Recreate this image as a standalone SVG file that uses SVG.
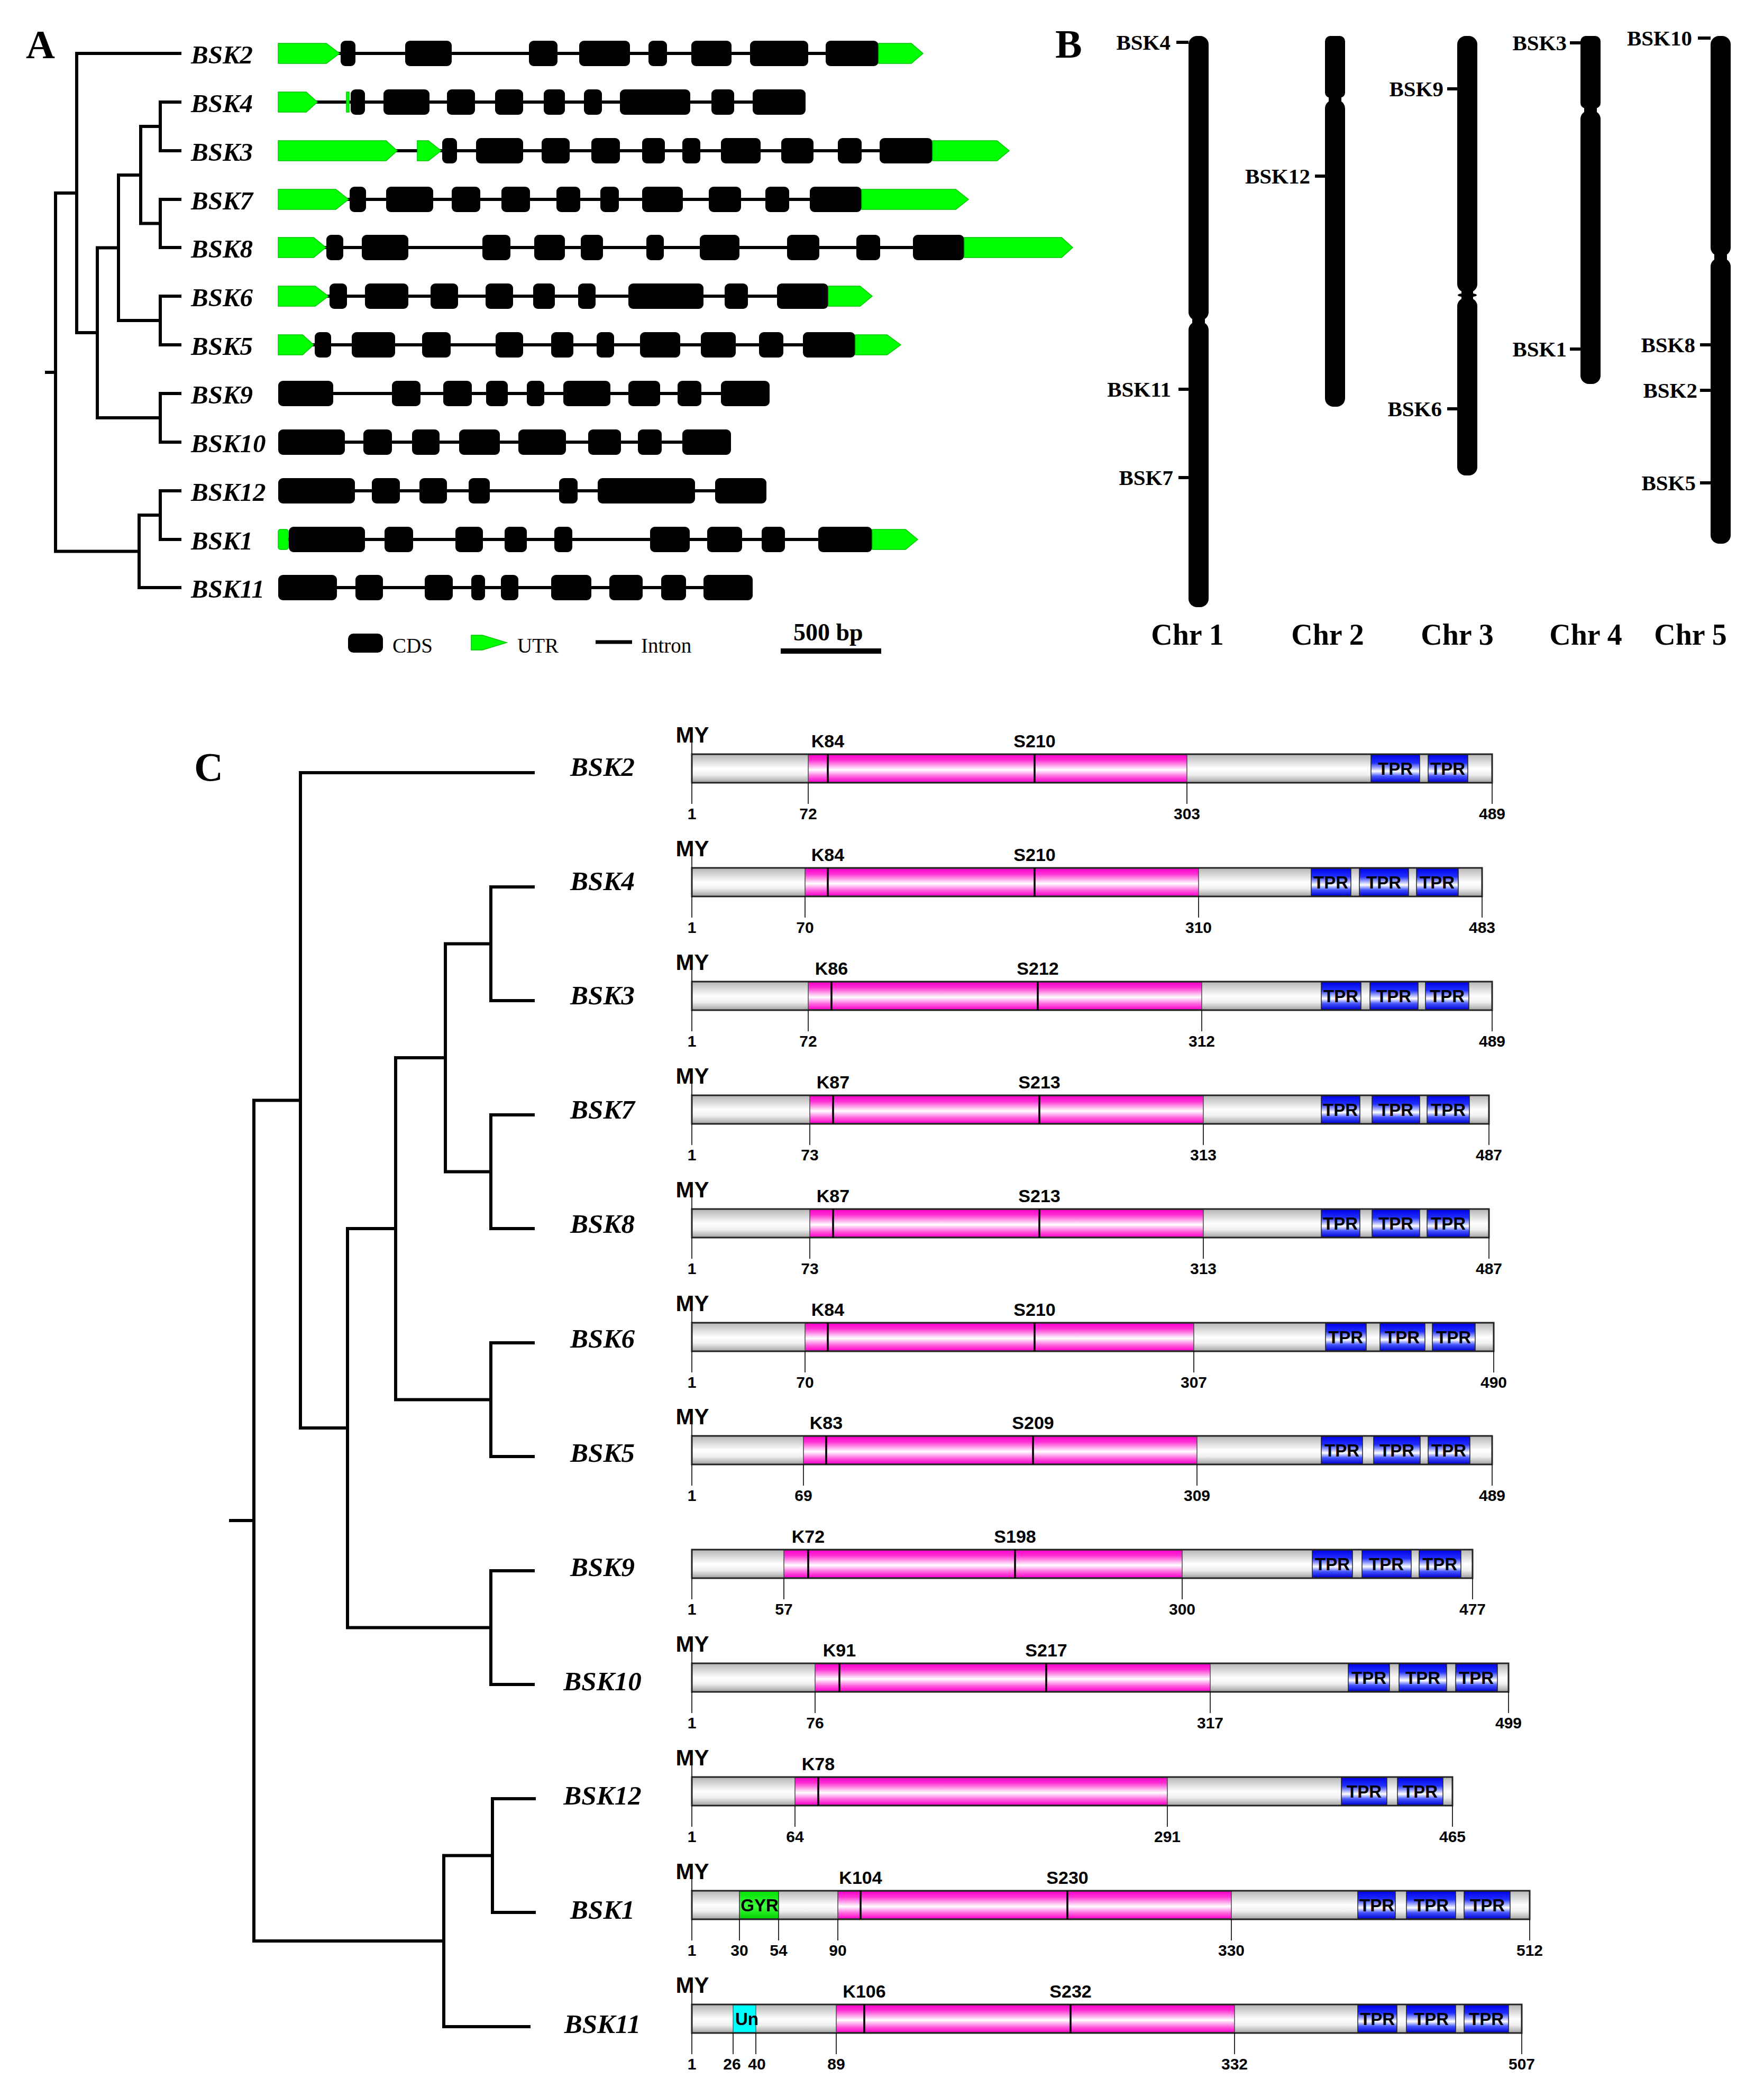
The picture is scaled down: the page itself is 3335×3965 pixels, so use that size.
<svg xmlns="http://www.w3.org/2000/svg" width="3335" height="3965" viewBox="0 0 3335 3965">
<style>
.panel{font-family:"Liberation Serif","Times New Roman",serif;font-weight:bold;font-size:76px;fill:#000}
.tr{fill:none;stroke:#000;stroke-width:6;stroke-linecap:square;stroke-linejoin:miter}
.gl{font-family:"Liberation Serif","Times New Roman",serif;font-weight:bold;font-style:italic;font-size:49px;fill:#000}
.intr{stroke:#000;stroke-width:6}
.cds{fill:#000}
.utr{fill:#00ff00;stroke:#00c800;stroke-width:1.5}
.leg{font-family:"Liberation Serif","Times New Roman",serif;font-size:39px;fill:#000}
.sb{font-family:"Liberation Serif","Times New Roman",serif;font-weight:bold;font-size:46px;fill:#000}
.chr{fill:#000}
.tick{stroke:#000;stroke-width:6}
.cl{font-family:"Liberation Serif","Times New Roman",serif;font-weight:bold;font-size:41px;fill:#000;text-anchor:end}
.chrn{font-family:"Liberation Serif","Times New Roman",serif;font-weight:bold;font-size:56px;fill:#000;text-anchor:middle}
.pl{font-family:"Liberation Serif","Times New Roman",serif;font-weight:bold;font-style:italic;font-size:51px;text-anchor:middle;fill:#000}
.bar{fill:url(#gGray)}
.barO{fill:none;stroke:#222;stroke-width:3}
.kin{fill:url(#gMag);stroke:#444;stroke-width:1.5}
.tpr{fill:url(#gBlue);stroke:#222;stroke-width:1.5}
.gyr{fill:url(#gGrn);stroke:#333;stroke-width:1.5}
.un{fill:#00ffff;stroke:#333;stroke-width:1}
.mk{stroke:#000;stroke-width:3.5}
.tk{stroke:#000;stroke-width:1.6}
.sa{font-family:"Liberation Sans",Arial,sans-serif;font-weight:bold;text-anchor:middle;fill:#000}
.my{font-size:42px}
.ks{font-size:34px}
.num{font-size:30px}
.tx{font-size:33px}
</style>
<defs>
<linearGradient id="gGray" x1="0" y1="0" x2="0" y2="1">
<stop offset="0" stop-color="#b4b4b4"/><stop offset="0.5" stop-color="#ffffff"/><stop offset="0.72" stop-color="#f0f0f0"/><stop offset="1" stop-color="#a0a0a0"/>
</linearGradient>
<linearGradient id="gMag" x1="0" y1="0" x2="0" y2="1">
<stop offset="0" stop-color="#ff00cc"/><stop offset="0.2" stop-color="#ff30d4"/><stop offset="0.55" stop-color="#ffffff"/><stop offset="0.8" stop-color="#ff60dc"/><stop offset="1" stop-color="#ff00cc"/>
</linearGradient>
<linearGradient id="gBlue" x1="0" y1="0" x2="0" y2="1">
<stop offset="0" stop-color="#0000e6"/><stop offset="0.3" stop-color="#2030ff"/><stop offset="0.6" stop-color="#ffffff"/><stop offset="0.78" stop-color="#4455ff"/><stop offset="1" stop-color="#0000d0"/>
</linearGradient>
<linearGradient id="gGrn" x1="0" y1="0" x2="0" y2="1">
<stop offset="0" stop-color="#00e000"/><stop offset="0.55" stop-color="#40ff40"/><stop offset="1" stop-color="#00d000"/>
</linearGradient>
</defs>
<rect x="0" y="0" width="3335" height="3965" fill="#fff"/>

<!-- Panel letters -->
<text class="panel" x="49" y="110">A</text>
<text class="panel" x="1995" y="109">B</text>
<text class="panel" x="367" y="1476">C</text>

<!-- Panel A tree -->
<g id="treeA">
<path class="tr" d="M88,704 H105 M105,365 V1042.5 M105,365 H145 M105,1042.5 H263"/>
<path class="tr" d="M340,101 H145 V629 H184"/>
<path class="tr" d="M224,468.5 H184 V790 H303"/>
<path class="tr" d="M266,331 H224 V606 H303"/>
<path class="tr" d="M303,239 H266 V422.5 H303"/>
<path class="tr" d="M340,193 H303 V285 H340"/>
<path class="tr" d="M340,377 H303 V468 H340"/>
<path class="tr" d="M340,560 H303 V652 H340"/>
<path class="tr" d="M340,744 H303 V836 H340"/>
<path class="tr" d="M303,974 H263 V1111 H340"/>
<path class="tr" d="M340,928 H303 V1020 H340"/>
</g>

<!-- Panel A gene structures -->
<g id="geneA-BSK2">
<text class="gl" x="361" y="120">BSK2</text>
<line class="intr" x1="526" y1="101" x2="1740" y2="101"/>
<polygon class="utr" points="526,82 617,82 642,101 617,120 526,120"/>
<rect class="cds" x="644" y="77" width="28" height="48" rx="9"/>
<rect class="cds" x="766" y="77" width="88" height="48" rx="9"/>
<rect class="cds" x="1000" y="77" width="54" height="48" rx="9"/>
<rect class="cds" x="1095" y="77" width="96" height="48" rx="9"/>
<rect class="cds" x="1226" y="77" width="35" height="48" rx="9"/>
<rect class="cds" x="1307" y="77" width="76" height="48" rx="9"/>
<rect class="cds" x="1418" y="77" width="110" height="48" rx="9"/>
<rect class="cds" x="1561" y="77" width="100" height="48" rx="9"/>
<polygon class="utr" points="1661,82 1723,82 1745,101 1723,120 1661,120"/>
</g>
<g id="geneA-BSK4">
<text class="gl" x="361" y="212">BSK4</text>
<line class="intr" x1="526" y1="193" x2="1523" y2="193"/>
<polygon class="utr" points="526,174 579,174 600,193 579,212 526,212"/>
<rect class="utr" x="655" y="174" width="5" height="38"/>
<rect class="cds" x="663" y="169" width="27" height="48" rx="9"/>
<rect class="cds" x="725" y="169" width="87" height="48" rx="9"/>
<rect class="cds" x="845" y="169" width="53" height="48" rx="9"/>
<rect class="cds" x="936" y="169" width="53" height="48" rx="9"/>
<rect class="cds" x="1028" y="169" width="40" height="48" rx="9"/>
<rect class="cds" x="1104" y="169" width="34" height="48" rx="9"/>
<rect class="cds" x="1172" y="169" width="133" height="48" rx="9"/>
<rect class="cds" x="1345" y="169" width="43" height="48" rx="9"/>
<rect class="cds" x="1423" y="169" width="100" height="48" rx="9"/>
</g>
<g id="geneA-BSK3">
<text class="gl" x="361" y="304">BSK3</text>
<line class="intr" x1="526" y1="285" x2="1900" y2="285"/>
<polygon class="utr" points="526,266 730,266 751,285 730,304 526,304"/>
<polygon class="utr" points="789,266 810,266 834,285 810,304 789,304"/>
<rect class="cds" x="836" y="261" width="28" height="48" rx="9"/>
<rect class="cds" x="900" y="261" width="89" height="48" rx="9"/>
<rect class="cds" x="1024" y="261" width="53" height="48" rx="9"/>
<rect class="cds" x="1118" y="261" width="54" height="48" rx="9"/>
<rect class="cds" x="1214" y="261" width="43" height="48" rx="9"/>
<rect class="cds" x="1290" y="261" width="34" height="48" rx="9"/>
<rect class="cds" x="1363" y="261" width="75" height="48" rx="9"/>
<rect class="cds" x="1477" y="261" width="61" height="48" rx="9"/>
<rect class="cds" x="1584" y="261" width="45" height="48" rx="9"/>
<rect class="cds" x="1663" y="261" width="100" height="48" rx="9"/>
<polygon class="utr" points="1763,266 1885,266 1908,285 1885,304 1763,304"/>
</g>
<g id="geneA-BSK7">
<text class="gl" x="361" y="396">BSK7</text>
<line class="intr" x1="526" y1="377" x2="1820" y2="377"/>
<polygon class="utr" points="526,358 635,358 659,377 635,396 526,396"/>
<rect class="cds" x="661" y="353" width="31" height="48" rx="9"/>
<rect class="cds" x="730" y="353" width="89" height="48" rx="9"/>
<rect class="cds" x="854" y="353" width="54" height="48" rx="9"/>
<rect class="cds" x="948" y="353" width="54" height="48" rx="9"/>
<rect class="cds" x="1052" y="353" width="45" height="48" rx="9"/>
<rect class="cds" x="1135" y="353" width="35" height="48" rx="9"/>
<rect class="cds" x="1214" y="353" width="77" height="48" rx="9"/>
<rect class="cds" x="1340" y="353" width="61" height="48" rx="9"/>
<rect class="cds" x="1447" y="353" width="45" height="48" rx="9"/>
<rect class="cds" x="1531" y="353" width="98" height="48" rx="9"/>
<polygon class="utr" points="1629,358 1807,358 1831,377 1807,396 1629,396"/>
</g>
<g id="geneA-BSK8">
<text class="gl" x="361" y="487">BSK8</text>
<line class="intr" x1="526" y1="468" x2="2020" y2="468"/>
<polygon class="utr" points="526,449 593,449 616,468 593,487 526,487"/>
<rect class="cds" x="617" y="444" width="32" height="48" rx="9"/>
<rect class="cds" x="684" y="444" width="88" height="48" rx="9"/>
<rect class="cds" x="912" y="444" width="53" height="48" rx="9"/>
<rect class="cds" x="1010" y="444" width="58" height="48" rx="9"/>
<rect class="cds" x="1098" y="444" width="42" height="48" rx="9"/>
<rect class="cds" x="1222" y="444" width="33" height="48" rx="9"/>
<rect class="cds" x="1323" y="444" width="75" height="48" rx="9"/>
<rect class="cds" x="1488" y="444" width="61" height="48" rx="9"/>
<rect class="cds" x="1619" y="444" width="45" height="48" rx="9"/>
<rect class="cds" x="1726" y="444" width="97" height="48" rx="9"/>
<polygon class="utr" points="1823,449 2007,449 2028,468 2007,487 1823,487"/>
</g>
<g id="geneA-BSK6">
<text class="gl" x="361" y="579">BSK6</text>
<line class="intr" x1="526" y1="560" x2="1640" y2="560"/>
<polygon class="utr" points="526,541 596,541 621,560 596,579 526,579"/>
<rect class="cds" x="623" y="536" width="33" height="48" rx="9"/>
<rect class="cds" x="690" y="536" width="82" height="48" rx="9"/>
<rect class="cds" x="814" y="536" width="52" height="48" rx="9"/>
<rect class="cds" x="918" y="536" width="52" height="48" rx="9"/>
<rect class="cds" x="1008" y="536" width="41" height="48" rx="9"/>
<rect class="cds" x="1093" y="536" width="33" height="48" rx="9"/>
<rect class="cds" x="1188" y="536" width="142" height="48" rx="9"/>
<rect class="cds" x="1370" y="536" width="44" height="48" rx="9"/>
<rect class="cds" x="1469" y="536" width="97" height="48" rx="9"/>
<polygon class="utr" points="1566,541 1626,541 1649,560 1626,579 1566,579"/>
</g>
<g id="geneA-BSK5">
<text class="gl" x="361" y="671">BSK5</text>
<line class="intr" x1="526" y1="652" x2="1695" y2="652"/>
<polygon class="utr" points="526,633 572,633 593,652 572,671 526,671"/>
<rect class="cds" x="595" y="628" width="31" height="48" rx="9"/>
<rect class="cds" x="665" y="628" width="82" height="48" rx="9"/>
<rect class="cds" x="798" y="628" width="54" height="48" rx="9"/>
<rect class="cds" x="937" y="628" width="52" height="48" rx="9"/>
<rect class="cds" x="1042" y="628" width="42" height="48" rx="9"/>
<rect class="cds" x="1128" y="628" width="33" height="48" rx="9"/>
<rect class="cds" x="1210" y="628" width="76" height="48" rx="9"/>
<rect class="cds" x="1325" y="628" width="66" height="48" rx="9"/>
<rect class="cds" x="1435" y="628" width="46" height="48" rx="9"/>
<rect class="cds" x="1518" y="628" width="99" height="48" rx="9"/>
<polygon class="utr" points="1617,633 1677,633 1703,652 1677,671 1617,671"/>
</g>
<g id="geneA-BSK9">
<text class="gl" x="361" y="763">BSK9</text>
<line class="intr" x1="526" y1="744" x2="1455" y2="744"/>
<rect class="cds" x="526" y="720" width="104" height="48" rx="9"/>
<rect class="cds" x="741" y="720" width="54" height="48" rx="9"/>
<rect class="cds" x="838" y="720" width="54" height="48" rx="9"/>
<rect class="cds" x="919" y="720" width="41" height="48" rx="9"/>
<rect class="cds" x="996" y="720" width="33" height="48" rx="9"/>
<rect class="cds" x="1065" y="720" width="89" height="48" rx="9"/>
<rect class="cds" x="1188" y="720" width="60" height="48" rx="9"/>
<rect class="cds" x="1281" y="720" width="45" height="48" rx="9"/>
<rect class="cds" x="1363" y="720" width="92" height="48" rx="9"/>
</g>
<g id="geneA-BSK10">
<text class="gl" x="361" y="855">BSK10</text>
<line class="intr" x1="526" y1="836" x2="1382" y2="836"/>
<rect class="cds" x="526" y="812" width="126" height="48" rx="9"/>
<rect class="cds" x="687" y="812" width="54" height="48" rx="9"/>
<rect class="cds" x="779" y="812" width="52" height="48" rx="9"/>
<rect class="cds" x="868" y="812" width="77" height="48" rx="9"/>
<rect class="cds" x="980" y="812" width="90" height="48" rx="9"/>
<rect class="cds" x="1112" y="812" width="62" height="48" rx="9"/>
<rect class="cds" x="1206" y="812" width="45" height="48" rx="9"/>
<rect class="cds" x="1290" y="812" width="92" height="48" rx="9"/>
</g>
<g id="geneA-BSK12">
<text class="gl" x="361" y="947">BSK12</text>
<line class="intr" x1="526" y1="928" x2="1449" y2="928"/>
<rect class="cds" x="526" y="904" width="145" height="48" rx="9"/>
<rect class="cds" x="703" y="904" width="53" height="48" rx="9"/>
<rect class="cds" x="793" y="904" width="52" height="48" rx="9"/>
<rect class="cds" x="886" y="904" width="40" height="48" rx="9"/>
<rect class="cds" x="1057" y="904" width="35" height="48" rx="9"/>
<rect class="cds" x="1130" y="904" width="184" height="48" rx="9"/>
<rect class="cds" x="1352" y="904" width="97" height="48" rx="9"/>
</g>
<g id="geneA-BSK1">
<text class="gl" x="361" y="1039">BSK1</text>
<line class="intr" x1="526" y1="1020" x2="1728" y2="1020"/>
<rect class="utr" x="526" y="1001" width="19" height="38" rx="4"/>
<rect class="cds" x="546" y="996" width="144" height="48" rx="9"/>
<rect class="cds" x="727" y="996" width="54" height="48" rx="9"/>
<rect class="cds" x="861" y="996" width="52" height="48" rx="9"/>
<rect class="cds" x="954" y="996" width="42" height="48" rx="9"/>
<rect class="cds" x="1048" y="996" width="34" height="48" rx="9"/>
<rect class="cds" x="1229" y="996" width="75" height="48" rx="9"/>
<rect class="cds" x="1337" y="996" width="66" height="48" rx="9"/>
<rect class="cds" x="1440" y="996" width="44" height="48" rx="9"/>
<rect class="cds" x="1547" y="996" width="102" height="48" rx="9"/>
<polygon class="utr" points="1649,1001 1712,1001 1735,1020 1712,1039 1649,1039"/>
</g>
<g id="geneA-BSK11">
<text class="gl" x="361" y="1130">BSK11</text>
<line class="intr" x1="526" y1="1111" x2="1423" y2="1111"/>
<rect class="cds" x="526" y="1087" width="111" height="48" rx="9"/>
<rect class="cds" x="672" y="1087" width="52" height="48" rx="9"/>
<rect class="cds" x="803" y="1087" width="53" height="48" rx="9"/>
<rect class="cds" x="891" y="1087" width="26" height="48" rx="9"/>
<rect class="cds" x="947" y="1087" width="33" height="48" rx="9"/>
<rect class="cds" x="1042" y="1087" width="76" height="48" rx="9"/>
<rect class="cds" x="1152" y="1087" width="63" height="48" rx="9"/>
<rect class="cds" x="1250" y="1087" width="47" height="48" rx="9"/>
<rect class="cds" x="1330" y="1087" width="93" height="48" rx="9"/>
</g>

<!-- Panel A legend -->
<g id="legendA">
<rect class="cds" x="658" y="1198" width="66" height="36" rx="10"/>
<text class="leg" x="742" y="1234">CDS</text>
<polygon class="utr" points="891,1201 912,1201 958,1215 912,1229 891,1229"/>
<text class="leg" x="978" y="1234">UTR</text>
<line x1="1126" y1="1214" x2="1195" y2="1214" stroke="#000" stroke-width="7"/>
<text class="leg" x="1212" y="1234">Intron</text>
<text class="sb" x="1500" y="1211">500 bp</text>
<rect x="1476" y="1226" width="190" height="10" fill="#000"/>
</g>

<!-- Panel B chromosomes -->
<g id="chr1">
<rect class="chr" x="2247" y="68" width="38" height="538" rx="16"/>
<rect class="chr" x="2247" y="608" width="38" height="540" rx="16"/>
<rect class="chr" x="2254" y="596" width="24" height="22"/>
<line class="tick" x1="2224" y1="80" x2="2247" y2="80"/>
<text class="cl" x="2213" y="94">BSK4</text>
<line class="tick" x1="2228" y1="736" x2="2247" y2="736"/>
<text class="cl" x="2214" y="750">BSK11</text>
<line class="tick" x1="2228" y1="903" x2="2247" y2="903"/>
<text class="cl" x="2218" y="917">BSK7</text>
<text class="chrn" x="2245" y="1219">Chr 1</text>
</g>
<g id="chr2">
<rect class="chr" x="2505" y="68" width="38" height="117" rx="10"/>
<rect class="chr" x="2505" y="189" width="38" height="580" rx="16"/>
<rect class="chr" x="2512" y="180" width="24" height="14"/>
<line class="tick" x1="2486" y1="333" x2="2505" y2="333"/>
<text class="cl" x="2477" y="347">BSK12</text>
<text class="chrn" x="2510" y="1219">Chr 2</text>
</g>
<g id="chr3">
<rect class="chr" x="2755" y="68" width="38" height="485" rx="16"/>
<rect class="chr" x="2755" y="563" width="38" height="336" rx="16"/>
<rect class="chr" x="2763" y="546" width="22" height="24"/>
<ellipse class="chr" cx="2774" cy="558" rx="18" ry="4"/>
<line class="tick" x1="2736" y1="168" x2="2755" y2="168"/>
<text class="cl" x="2729" y="182">BSK9</text>
<line class="tick" x1="2736" y1="773" x2="2755" y2="773"/>
<text class="cl" x="2726" y="787">BSK6</text>
<text class="chrn" x="2755" y="1219">Chr 3</text>
</g>
<g id="chr4">
<rect class="chr" x="2988" y="68" width="38" height="137" rx="10"/>
<rect class="chr" x="2988" y="209" width="38" height="517" rx="16"/>
<rect class="chr" x="2995" y="200" width="24" height="14"/>
<line class="tick" x1="2968" y1="81" x2="2988" y2="81"/>
<text class="cl" x="2962" y="95">BSK3</text>
<line class="tick" x1="2968" y1="660" x2="2988" y2="660"/>
<text class="cl" x="2962" y="674">BSK1</text>
<text class="chrn" x="2998" y="1219">Chr 4</text>
</g>
<g id="chr5">
<rect class="chr" x="3234" y="68" width="38" height="416" rx="16"/>
<rect class="chr" x="3234" y="488" width="38" height="540" rx="16"/>
<rect class="chr" x="3241" y="478" width="24" height="18"/>
<line class="tick" x1="3210" y1="72" x2="3234" y2="72"/>
<text class="cl" x="3199" y="86">BSK10</text>
<line class="tick" x1="3214" y1="652" x2="3234" y2="652"/>
<text class="cl" x="3205" y="666">BSK8</text>
<line class="tick" x1="3214" y1="738" x2="3234" y2="738"/>
<text class="cl" x="3209" y="752">BSK2</text>
<line class="tick" x1="3214" y1="913" x2="3234" y2="913"/>
<text class="cl" x="3206" y="927">BSK5</text>
<text class="chrn" x="3196" y="1219">Chr 5</text>
</g>

<!-- Panel C tree -->
<g id="treeC">
<path class="tr" d="M436,2875 H480 M480,2080.5 V3670 M480,2080.5 H568 M480,3670 H839"/>
<path class="tr" d="M1008,1461 H568 V2700 H657"/>
<path class="tr" d="M748,2323 H657 V3077.5 H928"/>
<path class="tr" d="M842,2000 H748 V2646.5 H928"/>
<path class="tr" d="M928,1784.5 H842 V2215.5 H928"/>
<path class="tr" d="M1008,1677 H928 V1892 H1008"/>
<path class="tr" d="M1008,2108 H928 V2323 H1008"/>
<path class="tr" d="M1008,2539 H928 V2754 H1008"/>
<path class="tr" d="M1008,2970 H928 V3185 H1008"/>
<path class="tr" d="M931,3508.5 H839 V3832 H1000"/>
<path class="tr" d="M1010,3401 H931 V3616 H1010"/>
</g>

<!-- Panel C proteins -->
<g id="protC-BSK2">
<text class="pl" x="1139" y="1467">BSK2</text>
<g transform="translate(0,1453)">
<rect class="bar" x="1308" y="-27" width="1513" height="54"/>
<rect class="kin" x="1528" y="-26" width="716" height="52"/>
<rect class="tpr" x="2592" y="-26" width="92" height="52"/>
<rect class="tpr" x="2700" y="-26" width="75" height="52"/>
<rect class="barO" x="1308" y="-27" width="1513" height="54"/>
<line class="mk" x1="1565" y1="-27" x2="1565" y2="27"/>
<line class="mk" x1="1956" y1="-27" x2="1956" y2="27"/>
<text class="sa tx" x="2638" y="12">TPR</text>
<text class="sa tx" x="2737" y="12">TPR</text>
<text class="sa my" x="1309" y="-49">MY</text>
<line class="tk" x1="1308" y1="-68" x2="1308" y2="-27"/>
<text class="sa ks" x="1565" y="-40">K84</text>
<text class="sa ks" x="1956" y="-40">S210</text>
<path class="tk" d="M1308,27V67M1528,27V67M2244,27V67M2821,27V67"/>
<text class="sa num" x="1308" y="96">1</text>
<text class="sa num" x="1528" y="96">72</text>
<text class="sa num" x="2244" y="96">303</text>
<text class="sa num" x="2821" y="96">489</text>
</g>
</g>

<g id="protC-BSK4">
<text class="pl" x="1139" y="1683">BSK4</text>
<g transform="translate(0,1668)">
<rect class="bar" x="1308" y="-27" width="1494" height="54"/>
<rect class="kin" x="1522" y="-26" width="744" height="52"/>
<rect class="tpr" x="2479" y="-26" width="75" height="52"/>
<rect class="tpr" x="2570" y="-26" width="93" height="52"/>
<rect class="tpr" x="2678" y="-26" width="79" height="52"/>
<rect class="barO" x="1308" y="-27" width="1494" height="54"/>
<line class="mk" x1="1565" y1="-27" x2="1565" y2="27"/>
<line class="mk" x1="1956" y1="-27" x2="1956" y2="27"/>
<text class="sa tx" x="2516" y="12">TPR</text>
<text class="sa tx" x="2616" y="12">TPR</text>
<text class="sa tx" x="2717" y="12">TPR</text>
<text class="sa my" x="1309" y="-49">MY</text>
<line class="tk" x1="1308" y1="-68" x2="1308" y2="-27"/>
<text class="sa ks" x="1565" y="-40">K84</text>
<text class="sa ks" x="1956" y="-40">S210</text>
<path class="tk" d="M1308,27V67M1522,27V67M2266,27V67M2802,27V67"/>
<text class="sa num" x="1308" y="96">1</text>
<text class="sa num" x="1522" y="96">70</text>
<text class="sa num" x="2266" y="96">310</text>
<text class="sa num" x="2802" y="96">483</text>
</g>
</g>

<g id="protC-BSK3">
<text class="pl" x="1139" y="1899">BSK3</text>
<g transform="translate(0,1883)">
<rect class="bar" x="1308" y="-27" width="1513" height="54"/>
<rect class="kin" x="1528" y="-26" width="744" height="52"/>
<rect class="tpr" x="2498" y="-26" width="75" height="52"/>
<rect class="tpr" x="2590" y="-26" width="91" height="52"/>
<rect class="tpr" x="2695" y="-26" width="82" height="52"/>
<rect class="barO" x="1308" y="-27" width="1513" height="54"/>
<line class="mk" x1="1572" y1="-27" x2="1572" y2="27"/>
<line class="mk" x1="1962" y1="-27" x2="1962" y2="27"/>
<text class="sa tx" x="2535" y="12">TPR</text>
<text class="sa tx" x="2635" y="12">TPR</text>
<text class="sa tx" x="2736" y="12">TPR</text>
<text class="sa my" x="1309" y="-49">MY</text>
<line class="tk" x1="1308" y1="-68" x2="1308" y2="-27"/>
<text class="sa ks" x="1572" y="-40">K86</text>
<text class="sa ks" x="1962" y="-40">S212</text>
<path class="tk" d="M1308,27V67M1528,27V67M2272,27V67M2821,27V67"/>
<text class="sa num" x="1308" y="96">1</text>
<text class="sa num" x="1528" y="96">72</text>
<text class="sa num" x="2272" y="96">312</text>
<text class="sa num" x="2821" y="96">489</text>
</g>
</g>

<g id="protC-BSK7">
<text class="pl" x="1139" y="2115">BSK7</text>
<g transform="translate(0,2098)">
<rect class="bar" x="1308" y="-27" width="1507" height="54"/>
<rect class="kin" x="1531" y="-26" width="744" height="52"/>
<rect class="tpr" x="2498" y="-26" width="73" height="52"/>
<rect class="tpr" x="2594" y="-26" width="90" height="52"/>
<rect class="tpr" x="2698" y="-26" width="80" height="52"/>
<rect class="barO" x="1308" y="-27" width="1507" height="54"/>
<line class="mk" x1="1575" y1="-27" x2="1575" y2="27"/>
<line class="mk" x1="1965" y1="-27" x2="1965" y2="27"/>
<text class="sa tx" x="2534" y="12">TPR</text>
<text class="sa tx" x="2639" y="12">TPR</text>
<text class="sa tx" x="2738" y="12">TPR</text>
<text class="sa my" x="1309" y="-49">MY</text>
<line class="tk" x1="1308" y1="-68" x2="1308" y2="-27"/>
<text class="sa ks" x="1575" y="-40">K87</text>
<text class="sa ks" x="1965" y="-40">S213</text>
<path class="tk" d="M1308,27V67M1531,27V67M2275,27V67M2815,27V67"/>
<text class="sa num" x="1308" y="96">1</text>
<text class="sa num" x="1531" y="96">73</text>
<text class="sa num" x="2275" y="96">313</text>
<text class="sa num" x="2815" y="96">487</text>
</g>
</g>

<g id="protC-BSK8">
<text class="pl" x="1139" y="2331">BSK8</text>
<g transform="translate(0,2313)">
<rect class="bar" x="1308" y="-27" width="1507" height="54"/>
<rect class="kin" x="1531" y="-26" width="744" height="52"/>
<rect class="tpr" x="2498" y="-26" width="73" height="52"/>
<rect class="tpr" x="2594" y="-26" width="90" height="52"/>
<rect class="tpr" x="2698" y="-26" width="80" height="52"/>
<rect class="barO" x="1308" y="-27" width="1507" height="54"/>
<line class="mk" x1="1575" y1="-27" x2="1575" y2="27"/>
<line class="mk" x1="1965" y1="-27" x2="1965" y2="27"/>
<text class="sa tx" x="2534" y="12">TPR</text>
<text class="sa tx" x="2639" y="12">TPR</text>
<text class="sa tx" x="2738" y="12">TPR</text>
<text class="sa my" x="1309" y="-49">MY</text>
<line class="tk" x1="1308" y1="-68" x2="1308" y2="-27"/>
<text class="sa ks" x="1575" y="-40">K87</text>
<text class="sa ks" x="1965" y="-40">S213</text>
<path class="tk" d="M1308,27V67M1531,27V67M2275,27V67M2815,27V67"/>
<text class="sa num" x="1308" y="96">1</text>
<text class="sa num" x="1531" y="96">73</text>
<text class="sa num" x="2275" y="96">313</text>
<text class="sa num" x="2815" y="96">487</text>
</g>
</g>

<g id="protC-BSK6">
<text class="pl" x="1139" y="2548">BSK6</text>
<g transform="translate(0,2528)">
<rect class="bar" x="1308" y="-27" width="1516" height="54"/>
<rect class="kin" x="1522" y="-26" width="735" height="52"/>
<rect class="tpr" x="2506" y="-26" width="77" height="52"/>
<rect class="tpr" x="2609" y="-26" width="85" height="52"/>
<rect class="tpr" x="2708" y="-26" width="81" height="52"/>
<rect class="barO" x="1308" y="-27" width="1516" height="54"/>
<line class="mk" x1="1565" y1="-27" x2="1565" y2="27"/>
<line class="mk" x1="1956" y1="-27" x2="1956" y2="27"/>
<text class="sa tx" x="2544" y="12">TPR</text>
<text class="sa tx" x="2651" y="12">TPR</text>
<text class="sa tx" x="2748" y="12">TPR</text>
<text class="sa my" x="1309" y="-49">MY</text>
<line class="tk" x1="1308" y1="-68" x2="1308" y2="-27"/>
<text class="sa ks" x="1565" y="-40">K84</text>
<text class="sa ks" x="1956" y="-40">S210</text>
<path class="tk" d="M1308,27V67M1522,27V67M2257,27V67M2824,27V67"/>
<text class="sa num" x="1308" y="96">1</text>
<text class="sa num" x="1522" y="96">70</text>
<text class="sa num" x="2257" y="96">307</text>
<text class="sa num" x="2824" y="96">490</text>
</g>
</g>

<g id="protC-BSK5">
<text class="pl" x="1139" y="2764">BSK5</text>
<g transform="translate(0,2742)">
<rect class="bar" x="1308" y="-27" width="1513" height="54"/>
<rect class="kin" x="1519" y="-26" width="744" height="52"/>
<rect class="tpr" x="2498" y="-26" width="78" height="52"/>
<rect class="tpr" x="2597" y="-26" width="88" height="52"/>
<rect class="tpr" x="2700" y="-26" width="79" height="52"/>
<rect class="barO" x="1308" y="-27" width="1513" height="54"/>
<line class="mk" x1="1562" y1="-27" x2="1562" y2="27"/>
<line class="mk" x1="1953" y1="-27" x2="1953" y2="27"/>
<text class="sa tx" x="2537" y="12">TPR</text>
<text class="sa tx" x="2641" y="12">TPR</text>
<text class="sa tx" x="2739" y="12">TPR</text>
<text class="sa my" x="1309" y="-49">MY</text>
<line class="tk" x1="1308" y1="-68" x2="1308" y2="-27"/>
<text class="sa ks" x="1562" y="-40">K83</text>
<text class="sa ks" x="1953" y="-40">S209</text>
<path class="tk" d="M1308,27V67M1519,27V67M2263,27V67M2821,27V67"/>
<text class="sa num" x="1308" y="96">1</text>
<text class="sa num" x="1519" y="96">69</text>
<text class="sa num" x="2263" y="96">309</text>
<text class="sa num" x="2821" y="96">489</text>
</g>
</g>

<g id="protC-BSK9">
<text class="pl" x="1139" y="2980">BSK9</text>
<g transform="translate(0,2957)">
<rect class="bar" x="1308" y="-27" width="1476" height="54"/>
<rect class="kin" x="1482" y="-26" width="753" height="52"/>
<rect class="tpr" x="2481" y="-26" width="76" height="52"/>
<rect class="tpr" x="2575" y="-26" width="93" height="52"/>
<rect class="tpr" x="2683" y="-26" width="79" height="52"/>
<rect class="barO" x="1308" y="-27" width="1476" height="54"/>
<line class="mk" x1="1528" y1="-27" x2="1528" y2="27"/>
<line class="mk" x1="1919" y1="-27" x2="1919" y2="27"/>
<text class="sa tx" x="2519" y="12">TPR</text>
<text class="sa tx" x="2621" y="12">TPR</text>
<text class="sa tx" x="2722" y="12">TPR</text>
<text class="sa ks" x="1528" y="-40">K72</text>
<text class="sa ks" x="1919" y="-40">S198</text>
<path class="tk" d="M1308,27V67M1482,27V67M2235,27V67M2784,27V67"/>
<text class="sa num" x="1308" y="96">1</text>
<text class="sa num" x="1482" y="96">57</text>
<text class="sa num" x="2235" y="96">300</text>
<text class="sa num" x="2784" y="96">477</text>
</g>
</g>

<g id="protC-BSK10">
<text class="pl" x="1139" y="3196">BSK10</text>
<g transform="translate(0,3172)">
<rect class="bar" x="1308" y="-27" width="1544" height="54"/>
<rect class="kin" x="1541" y="-26" width="747" height="52"/>
<rect class="tpr" x="2549" y="-26" width="78" height="52"/>
<rect class="tpr" x="2645" y="-26" width="90" height="52"/>
<rect class="tpr" x="2752" y="-26" width="79" height="52"/>
<rect class="barO" x="1308" y="-27" width="1544" height="54"/>
<line class="mk" x1="1587" y1="-27" x2="1587" y2="27"/>
<line class="mk" x1="1978" y1="-27" x2="1978" y2="27"/>
<text class="sa tx" x="2588" y="12">TPR</text>
<text class="sa tx" x="2690" y="12">TPR</text>
<text class="sa tx" x="2791" y="12">TPR</text>
<text class="sa my" x="1309" y="-49">MY</text>
<line class="tk" x1="1308" y1="-68" x2="1308" y2="-27"/>
<text class="sa ks" x="1587" y="-40">K91</text>
<text class="sa ks" x="1978" y="-40">S217</text>
<path class="tk" d="M1308,27V67M1541,27V67M2288,27V67M2852,27V67"/>
<text class="sa num" x="1308" y="96">1</text>
<text class="sa num" x="1541" y="96">76</text>
<text class="sa num" x="2288" y="96">317</text>
<text class="sa num" x="2852" y="96">499</text>
</g>
</g>

<g id="protC-BSK12">
<text class="pl" x="1139" y="3412">BSK12</text>
<g transform="translate(0,3387)">
<rect class="bar" x="1308" y="-27" width="1438" height="54"/>
<rect class="kin" x="1503" y="-26" width="704" height="52"/>
<rect class="tpr" x="2536" y="-26" width="86" height="52"/>
<rect class="tpr" x="2642" y="-26" width="86" height="52"/>
<rect class="barO" x="1308" y="-27" width="1438" height="54"/>
<line class="mk" x1="1547" y1="-27" x2="1547" y2="27"/>
<text class="sa tx" x="2579" y="12">TPR</text>
<text class="sa tx" x="2685" y="12">TPR</text>
<text class="sa my" x="1309" y="-49">MY</text>
<line class="tk" x1="1308" y1="-68" x2="1308" y2="-27"/>
<text class="sa ks" x="1547" y="-40">K78</text>
<path class="tk" d="M1308,27V67M1503,27V67M2207,27V67M2746,27V67"/>
<text class="sa num" x="1308" y="96">1</text>
<text class="sa num" x="1503" y="96">64</text>
<text class="sa num" x="2207" y="96">291</text>
<text class="sa num" x="2746" y="96">465</text>
</g>
</g>

<g id="protC-BSK1">
<text class="pl" x="1139" y="3628">BSK1</text>
<g transform="translate(0,3602)">
<rect class="bar" x="1308" y="-27" width="1584" height="54"/>
<rect class="gyr" x="1398" y="-26" width="74" height="52"/>
<rect class="kin" x="1584" y="-26" width="744" height="52"/>
<rect class="tpr" x="2567" y="-26" width="71" height="52"/>
<rect class="tpr" x="2659" y="-26" width="93" height="52"/>
<rect class="tpr" x="2768" y="-26" width="87" height="52"/>
<rect class="barO" x="1308" y="-27" width="1584" height="54"/>
<line class="mk" x1="1627" y1="-27" x2="1627" y2="27"/>
<line class="mk" x1="2018" y1="-27" x2="2018" y2="27"/>
<text class="sa tx" x="1436" y="12">GYR</text>
<text class="sa tx" x="2603" y="12">TPR</text>
<text class="sa tx" x="2706" y="12">TPR</text>
<text class="sa tx" x="2812" y="12">TPR</text>
<text class="sa my" x="1309" y="-49">MY</text>
<line class="tk" x1="1308" y1="-68" x2="1308" y2="-27"/>
<text class="sa ks" x="1627" y="-40">K104</text>
<text class="sa ks" x="2018" y="-40">S230</text>
<path class="tk" d="M1308,27V67M1398,27V67M1472,27V67M1584,27V67M2328,27V67M2892,27V67"/>
<text class="sa num" x="1308" y="96">1</text>
<text class="sa num" x="1398" y="96">30</text>
<text class="sa num" x="1472" y="96">54</text>
<text class="sa num" x="1584" y="96">90</text>
<text class="sa num" x="2328" y="96">330</text>
<text class="sa num" x="2892" y="96">512</text>
</g>
</g>

<g id="protC-BSK11">
<text class="pl" x="1139" y="3844">BSK11</text>
<g transform="translate(0,3817)">
<rect class="bar" x="1308" y="-27" width="1569" height="54"/>
<rect class="un" x="1386" y="-26" width="43" height="52"/>
<rect class="kin" x="1581" y="-26" width="753" height="52"/>
<rect class="tpr" x="2567" y="-26" width="74" height="52"/>
<rect class="tpr" x="2659" y="-26" width="93" height="52"/>
<rect class="tpr" x="2768" y="-26" width="84" height="52"/>
<rect class="barO" x="1308" y="-27" width="1569" height="54"/>
<line class="mk" x1="1634" y1="-27" x2="1634" y2="27"/>
<line class="mk" x1="2024" y1="-27" x2="2024" y2="27"/>
<text class="sa tx" x="1412" y="12">Un</text>
<text class="sa tx" x="2604" y="12">TPR</text>
<text class="sa tx" x="2706" y="12">TPR</text>
<text class="sa tx" x="2810" y="12">TPR</text>
<text class="sa my" x="1309" y="-49">MY</text>
<line class="tk" x1="1308" y1="-68" x2="1308" y2="-27"/>
<text class="sa ks" x="1634" y="-40">K106</text>
<text class="sa ks" x="2024" y="-40">S232</text>
<path class="tk" d="M1308,27V67M1386,27V67M1429,27V67M1581,27V67M2334,27V67M2877,27V67"/>
<text class="sa num" x="1308" y="96">1</text>
<text class="sa num" x="1384" y="96">26</text>
<text class="sa num" x="1431" y="96">40</text>
<text class="sa num" x="1581" y="96">89</text>
<text class="sa num" x="2334" y="96">332</text>
<text class="sa num" x="2877" y="96">507</text>
</g>
</g>
</svg>
